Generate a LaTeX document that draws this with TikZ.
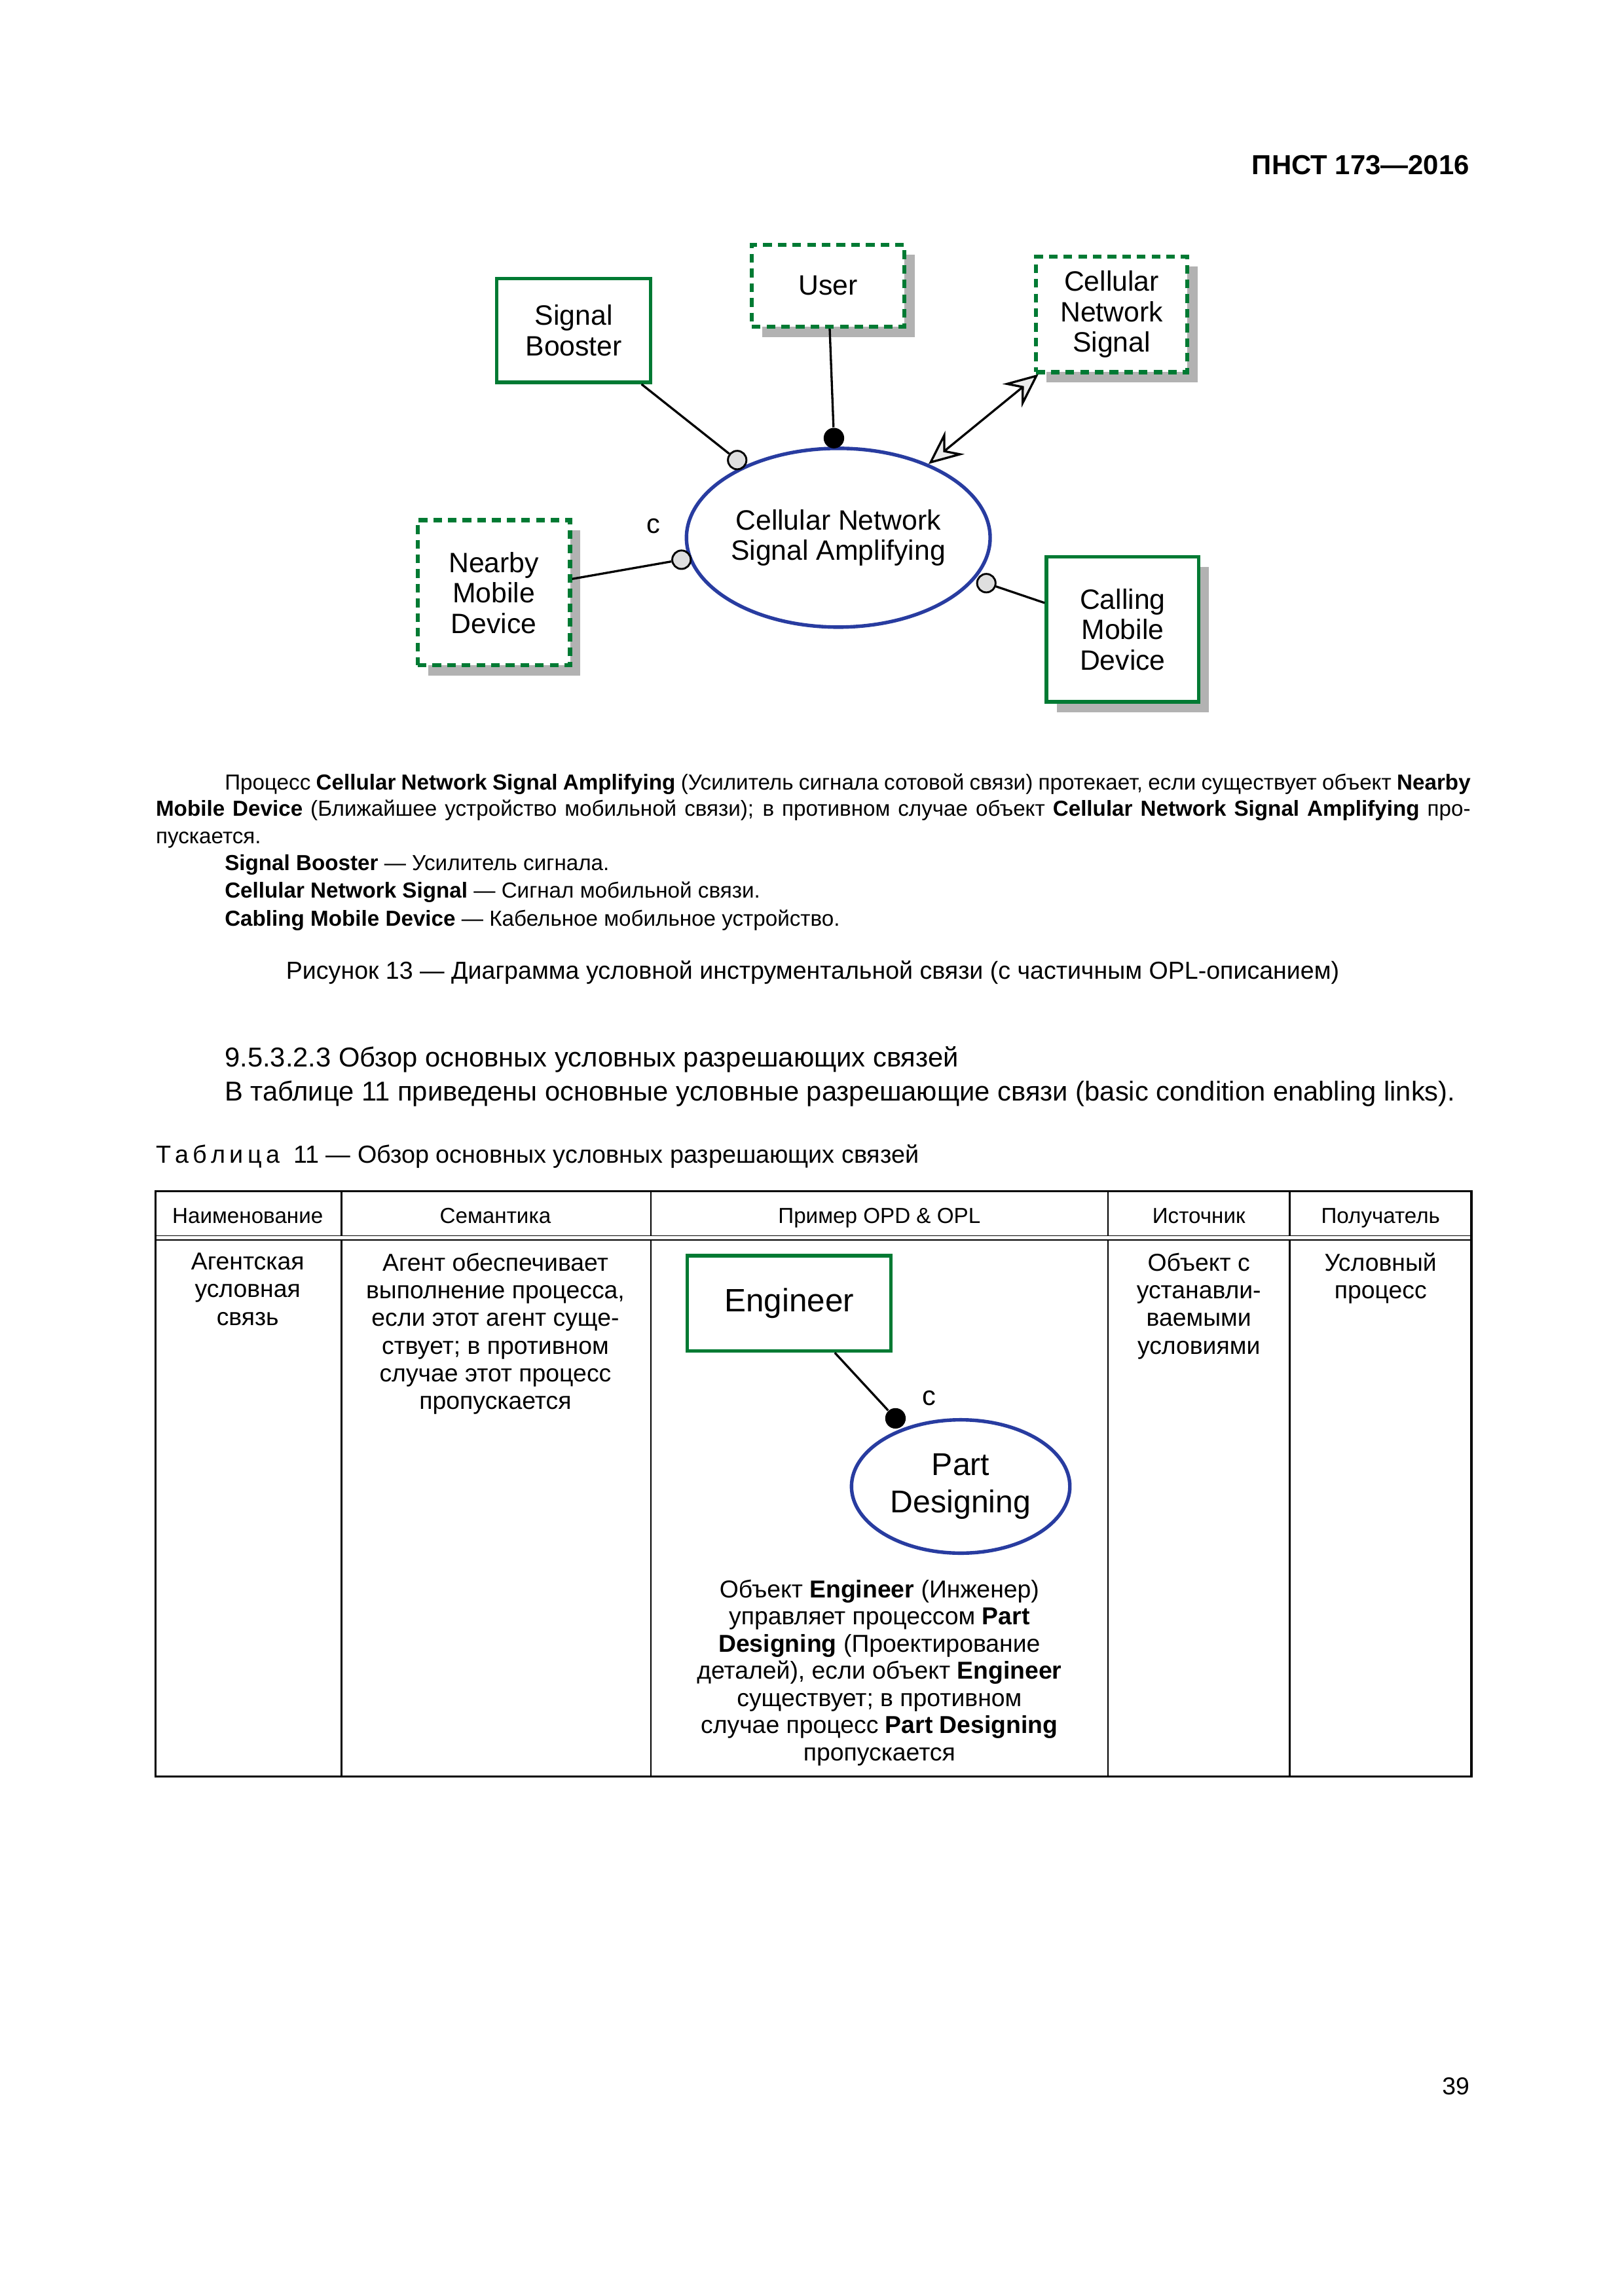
\documentclass[tikz,border=0pt]{standalone}
\usepackage{fontspec}
\setmainfont{Liberation Sans}
\usetikzlibrary{shapes.geometric,arrows.meta,shadows}
\definecolor{opmgreen}{RGB}{0,122,51}
\definecolor{opmblue}{RGB}{40,60,160}
\newcommand\pxu{0.018953cm}

\begin{document}
\begin{tikzpicture}[x=0.018953cm,y=-0.018953cm,
  obj/.style={draw=opmgreen,line width=1.3pt,fill=white,align=center,inner sep=0,font=\fontsize{10.3}{11.2}\selectfont},
  envobj/.style={obj,line width=1.5pt,dash pattern=on 3.2pt off 2.2pt},
  shad/.style={drop shadow={shadow xshift=7*\pxu,shadow yshift=-7*\pxu,fill=gray!60,opacity=1}},
  proc/.style={ellipse,draw=opmblue,line width=1.3pt,fill=white,align=center,inner sep=0},
  inst/.style={circle,draw,line width=0.7pt,fill=gray!25,minimum size=12.6*\pxu,inner sep=0},
  agt/.style={circle,fill=black,minimum size=14*\pxu,inner sep=0},
  link/.style={line width=0.8pt},
  opmhead/.tip={Stealth[fill=gray!15,length=4.4mm,width=3.9mm,inset=1.6mm]},
  txt/.style={inner sep=0,font=\fontsize{8}{10}\selectfont},
  cell/.style={inner sep=0,align=center,font=\fontsize{9}{10.2}\selectfont}]

 \useasboundingbox (0,0) rectangle (1108,1567);

 \node[anchor=base east,inner sep=0,font=\fontsize{10.1}{12}\selectfont\bfseries] (doc) at (1003,119) {ПНСТ 173—2016};

 % figure 13
 \node[proc,minimum width=204*\pxu,minimum height=122*\pxu,font=\fontsize{10.3}{11.2}\selectfont] (amplify) at (572,367) {Cellular Network\\Signal Amplifying};
 \node[obj,minimum width=105*\pxu,minimum height=71*\pxu] (booster) at (391.5,225.5) {Signal\\Booster};
 \node[envobj,shad,minimum width=104*\pxu,minimum height=56*\pxu] (user) at (565,195) {User};
 \node[envobj,shad,minimum width=103*\pxu,minimum height=79*\pxu] (signal) at (758.5,214.5) {Cellular\\Network\\Signal};
 \node[envobj,shad,minimum width=104*\pxu,minimum height=99*\pxu] (nearby) at (337,404.5) {Nearby\\Mobile\\Device};
 \node[obj,shad,minimum width=104*\pxu,minimum height=99*\pxu] (calling) at (766,429.5) {Calling\\Mobile\\Device};

 \node[inst] (boosterc) at (503,314) {};
 \node[agt] (userc) at (569,299) {};
 \node[inst] (nearbyc) at (465,382) {};
 \node[inst] (callingc) at (673,398) {};
 \node[inner sep=0,font=\fontsize{10}{12}\selectfont] (cond) at (446,359) {c};

 \draw[link] (booster) -- (boosterc);
 \draw[link] (user) -- (userc);
 \draw[link] (nearby) -- (nearbyc);
 \draw[link] (calling) -- (callingc);
 \draw[link,opmhead-opmhead] (amplify) -- (signal);

 \node[txt,anchor=base west] (p1) at (153,538.9) {\makebox[16.11cm][s]{Процесс \textbf{Cellular Network Signal Amplifying} (Усилитель сигнала сотовой связи) протекает, если существует объект \textbf{Nearby}}};
 \node[txt,anchor=base west] (p2) at (106,556.9) {\makebox[17cm][s]{\textbf{Mobile Device} (Ближайшее устройство мобильной связи); в противном случае объект \textbf{Cellular Network Signal Amplifying} про-}};
 \node[txt,anchor=base west] (p3) at (106,575.9) {пускается.};
 \node[txt,anchor=base west] (p4) at (153,593.9) {\textbf{Signal Booster} — Усилитель сигнала.};
 \node[txt,anchor=base west] (p5) at (153,612.9) {\textbf{Cellular Network Signal} — Сигнал мобильной связи.};
 \node[txt,anchor=base west] (p6) at (153,631.9) {\textbf{Cabling Mobile Device} — Кабельное мобильное устройство.};

 \node[txt,anchor=base,font=\fontsize{9.05}{11}\selectfont] (caption) at (554.5,668) {Рисунок 13 — Диаграмма условной инструментальной связи (с частичным OPL-описанием)};

 \node[txt,anchor=base west,font=\fontsize{10.05}{12}\selectfont] (h1) at (153,728.3) {9.5.3.2.3 Обзор основных условных разрешающих связей};
 \node[txt,anchor=base west,font=\fontsize{10.05}{12}\selectfont] (h2) at (153,751.4) {В таблице 11 приведены основные условные разрешающие связи (basic condition enabling links).};
 \node[txt,anchor=base west,font=\fontsize{9.1}{11}\selectfont] (tabtitle) at (106,793.6) {Т\,а\,б\,л\,и\,ц\,а\ \ 11 — Обзор основных условных разрешающих связей};

 % table 11
 \draw[line width=0.8pt] (106,813) rectangle (1004,1212.5);
 \draw[line width=0.4pt] (106,843.3) -- (1004,843.3) (106,846.2) -- (1004,846.2);
 \foreach \x in {233,444,756,880}
   \draw[line width=0.5pt] (\x,813) -- (\x,843.3) (\x,846.2) -- (\x,1212.5);

 \foreach \x/\t in {169/Наименование,338/Семантика,600/Пример OPD \& OPL,818/Источник,942/Получатель}
   \node[txt,anchor=base] at (\x,835) {\t};

 \node[cell,anchor=north] (name) at (169,854.8) {Агентская\\условная\\связь};
 \node[cell,anchor=north] (sem) at (338,854.8) {Агент обеспечивает\\выполнение процесса,\\если этот агент суще-\\ствует; в противном\\случае этот процесс\\пропускается};
 \node[cell,anchor=north] (src) at (818,854.8) {Объект с\\устанавли-\\ваемыми\\условиями};
 \node[cell,anchor=north] (dst) at (942,854.8) {Условный\\процесс};

 \node[obj,minimum width=139*\pxu,minimum height=65*\pxu,font=\fontsize{11.9}{14}\selectfont] (engineer) at (538.5,889.5) {Engineer};
 \node[proc,minimum width=149*\pxu,minimum height=91*\pxu,font=\fontsize{11.6}{13.6}\selectfont] (design) at (655.5,1014.5) {Part\\Designing};
 \node[agt] (engc) at (611,968) {};
 \node[inner sep=0,font=\fontsize{10}{12}\selectfont] (cond2) at (634,954) {c};
 \draw[link] (engineer) -- (engc);

 \node[cell,anchor=north,font=\fontsize{9}{10}\selectfont] (opl) at (600,1077.8) {Объект \textbf{Engineer} (Инженер)\\управляет процессом \textbf{Part}\\\textbf{Designing} (Проектирование\\деталей), если объект \textbf{Engineer}\\существует; в противном\\случае процесс \textbf{Part Designing}\\пропускается};

 \node[txt,anchor=base east,font=\fontsize{9}{11}\selectfont] (page) at (1003,1429.4) {39};
\end{tikzpicture}
\end{document}
